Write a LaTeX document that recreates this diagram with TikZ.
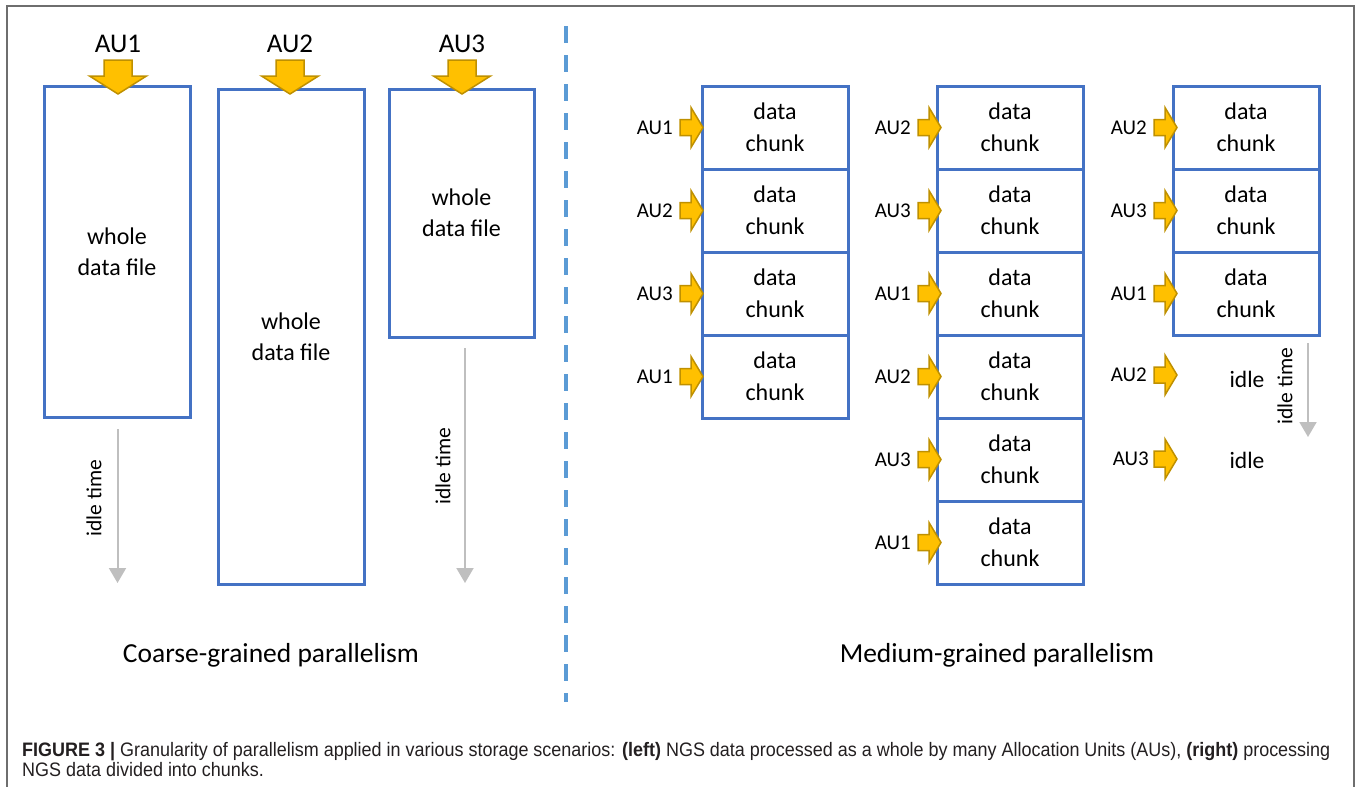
\documentclass[tikz,border=0pt]{standalone}
\usepackage{graphicx}
\usepackage{fontspec}
\setmainfont{Carlito}
\newfontfamily\capfont{Liberation Sans}
\usetikzlibrary{arrows.meta}

\definecolor{boxblue}{HTML}{4472C4}
\definecolor{divblue}{HTML}{5B9BD5}
\definecolor{aufill}{HTML}{FFC000}
\definecolor{auedge}{HTML}{BF9000}
\definecolor{idlegray}{HTML}{BFBFBF}
\definecolor{framegray}{HTML}{6E6E6E}
\definecolor{capgray}{HTML}{231F20}

\newlength\caplen
\newcommand\capsize{\capfont\fontsize{19.5}{20}\selectfont}
\newcommand\figcapA{\textbf{FIGURE 3 |} Granularity of parallelism applied in various storage scenarios: \textbf{(left)} NGS data processed as a whole by many Allocation Units (AUs), \textbf{(right)} processing}
\newcommand\figcapB{NGS data divided into chunks.}
% horizontal squeeze so that the first caption line spans the text width
\AtBeginDocument{%
  \settowidth\caplen{\capsize\figcapA}%
  \pgfmathsetmacro\capsx{1308pt/\caplen}%
  \xdef\capsx{\capsx}}

\tikzset{
  filebox/.style={draw=boxblue, line width=3pt, minimum width=146pt, inner sep=0pt,
    outer sep=0pt, align=center, font=\fontsize{24}{31}\selectfont},
  chunkbox/.style={filebox, minimum height=83pt, font=\fontsize{24}{32}\selectfont},
  toplabel/.style={font=\fontsize{27}{32}\selectfont, inner sep=0pt},
  aulabel/.style={font=\fontsize{21}{25}\selectfont, inner sep=0pt, anchor=east},
  idletext/.style={font=\fontsize{23.5}{28}\selectfont, inner sep=0pt},
  idlearrow/.style={draw=idlegray, line width=2pt, -{Triangle[width=17pt,length=15pt]}},
  idlelabel/.style={font=\fontsize{21.5}{26}\selectfont, rotate=90, inner sep=0pt},
  sectitle/.style={font=\fontsize{27.5}{32}\selectfont, inner sep=0pt},
  auarrow/.style={fill=aufill, draw=auedge, line width=1.5pt, line join=miter},
  downau/.pic={\path[auarrow] (-14,-34) -- (14,-34) -- (14,-18) -- (28.5,-18) -- (0,0)
      -- (-28.5,-18) -- (-14,-18) -- cycle;},
  rightau/.pic={\path[auarrow] (-23,-8) -- (-12,-8) -- (-12,-20) -- (0,0) -- (-12,20)
      -- (-12,8) -- (-23,8) -- cycle;},
}

\begin{document}
\begin{tikzpicture}[x=1pt, y=-1pt]
\useasboundingbox (0,0) rectangle (1358,787);

% outer frame (open at the bottom)
\draw[framegray, line width=1.5pt] (7,787) -- (7,6) -- (1354,6) -- (1354,787);

% ---------- coarse-grained: whole files ----------
\node[filebox, minimum height=331pt] (f1) at (117,251.5) {whole\\data file};
\node[filebox, minimum height=495pt] (f2) at (291,336.5) {whole\\data file};
\node[filebox, minimum height=248pt, minimum width=145pt] (f3) at (461.5,213) {whole\\data file};

\node[toplabel] (t1) at (118,43.5) {AU1};
\node[toplabel] (t2) at (290,43.5) {AU2};
\node[toplabel] (t3) at (462,43.5) {AU3};
\pic at (t1 |- 0,94) {downau};
\pic at (t2 |- 0,94) {downau};
\pic at (t3 |- 0,94) {downau};

\coordinate (i1s) at (117.5,429);
\coordinate (i1e) at (117.5,583);
\draw[idlearrow] (i1s) -- (i1e);
\node[idlelabel] (il1) at (94,498) {idle time};

\coordinate (i2s) at (465,348);
\coordinate (i2e) at (465,583);
\draw[idlearrow] (i2s) -- (i2e);
\node[idlelabel] (il2) at (443,466) {idle time};

\node[sectitle] (s1) at (271,655) {Coarse-grained parallelism};

% divider
\coordinate (dtop) at (566,26);
\coordinate (dbot) at (566,702);
\draw[divblue, line width=4pt, dash pattern=on 17pt off 12pt] (dtop) -- (dbot);

% ---------- medium-grained: data chunks ----------
\foreach \i/\au in {1/AU1,2/AU2,3/AU3,4/AU1} {
  \node[chunkbox] (a\i) at (775,44.5+83*\i) {data\\chunk};
  \pic at ([xshift=1pt]a\i.west) {rightau};
  \node[aulabel] (la\i) at ([xshift=-29pt]a\i.west) {\au};
}
\foreach \i/\au in {1/AU2,2/AU3,3/AU1,4/AU2,5/AU3,6/AU1} {
  \node[chunkbox] (b\i) at (1010,44.5+83*\i) {data\\chunk};
  \pic at ([xshift=4pt]b\i.west) {rightau};
  \node[aulabel] (lb\i) at ([xshift=-26pt]b\i.west) {\au};
}
\foreach \i/\au in {1/AU2,2/AU3,3/AU1} {
  \node[chunkbox] (c\i) at (1246,44.5+83*\i) {data\\chunk};
  \pic at ([xshift=4pt]c\i.west) {rightau};
  \node[aulabel] (lc\i) at ([xshift=-26pt]c\i.west) {\au};
}
\node[idletext] (idle1) at (1247,379.5) {idle};
\node[idletext] (idle2) at (1247,460.5) {idle};
\pic at (1177,375) {rightau};
\pic at (1177,459) {rightau};
\node[aulabel] (lc4) at (1147,375) {AU2};
\node[aulabel] (lc5) at (1149,459) {AU3};

\coordinate (i3s) at (1308,343);
\coordinate (i3e) at (1308,437);
\draw[idlearrow] (i3s) -- (i3e);
\node[idlelabel] (il3) at (1285,386) {idle time};

\node[sectitle] (s2) at (997,655) {Medium-grained parallelism};

% ---------- caption ----------
\node[anchor=base west, inner sep=0pt, text=capgray] (cap1) at (22,756)
  {\scalebox{\capsx}[1]{\capsize\figcapA}};
\node[anchor=base west, inner sep=0pt, text=capgray] (cap2) at (22,776)
  {\scalebox{\capsx}[1]{\capsize\figcapB}};
\end{tikzpicture}
\end{document}
